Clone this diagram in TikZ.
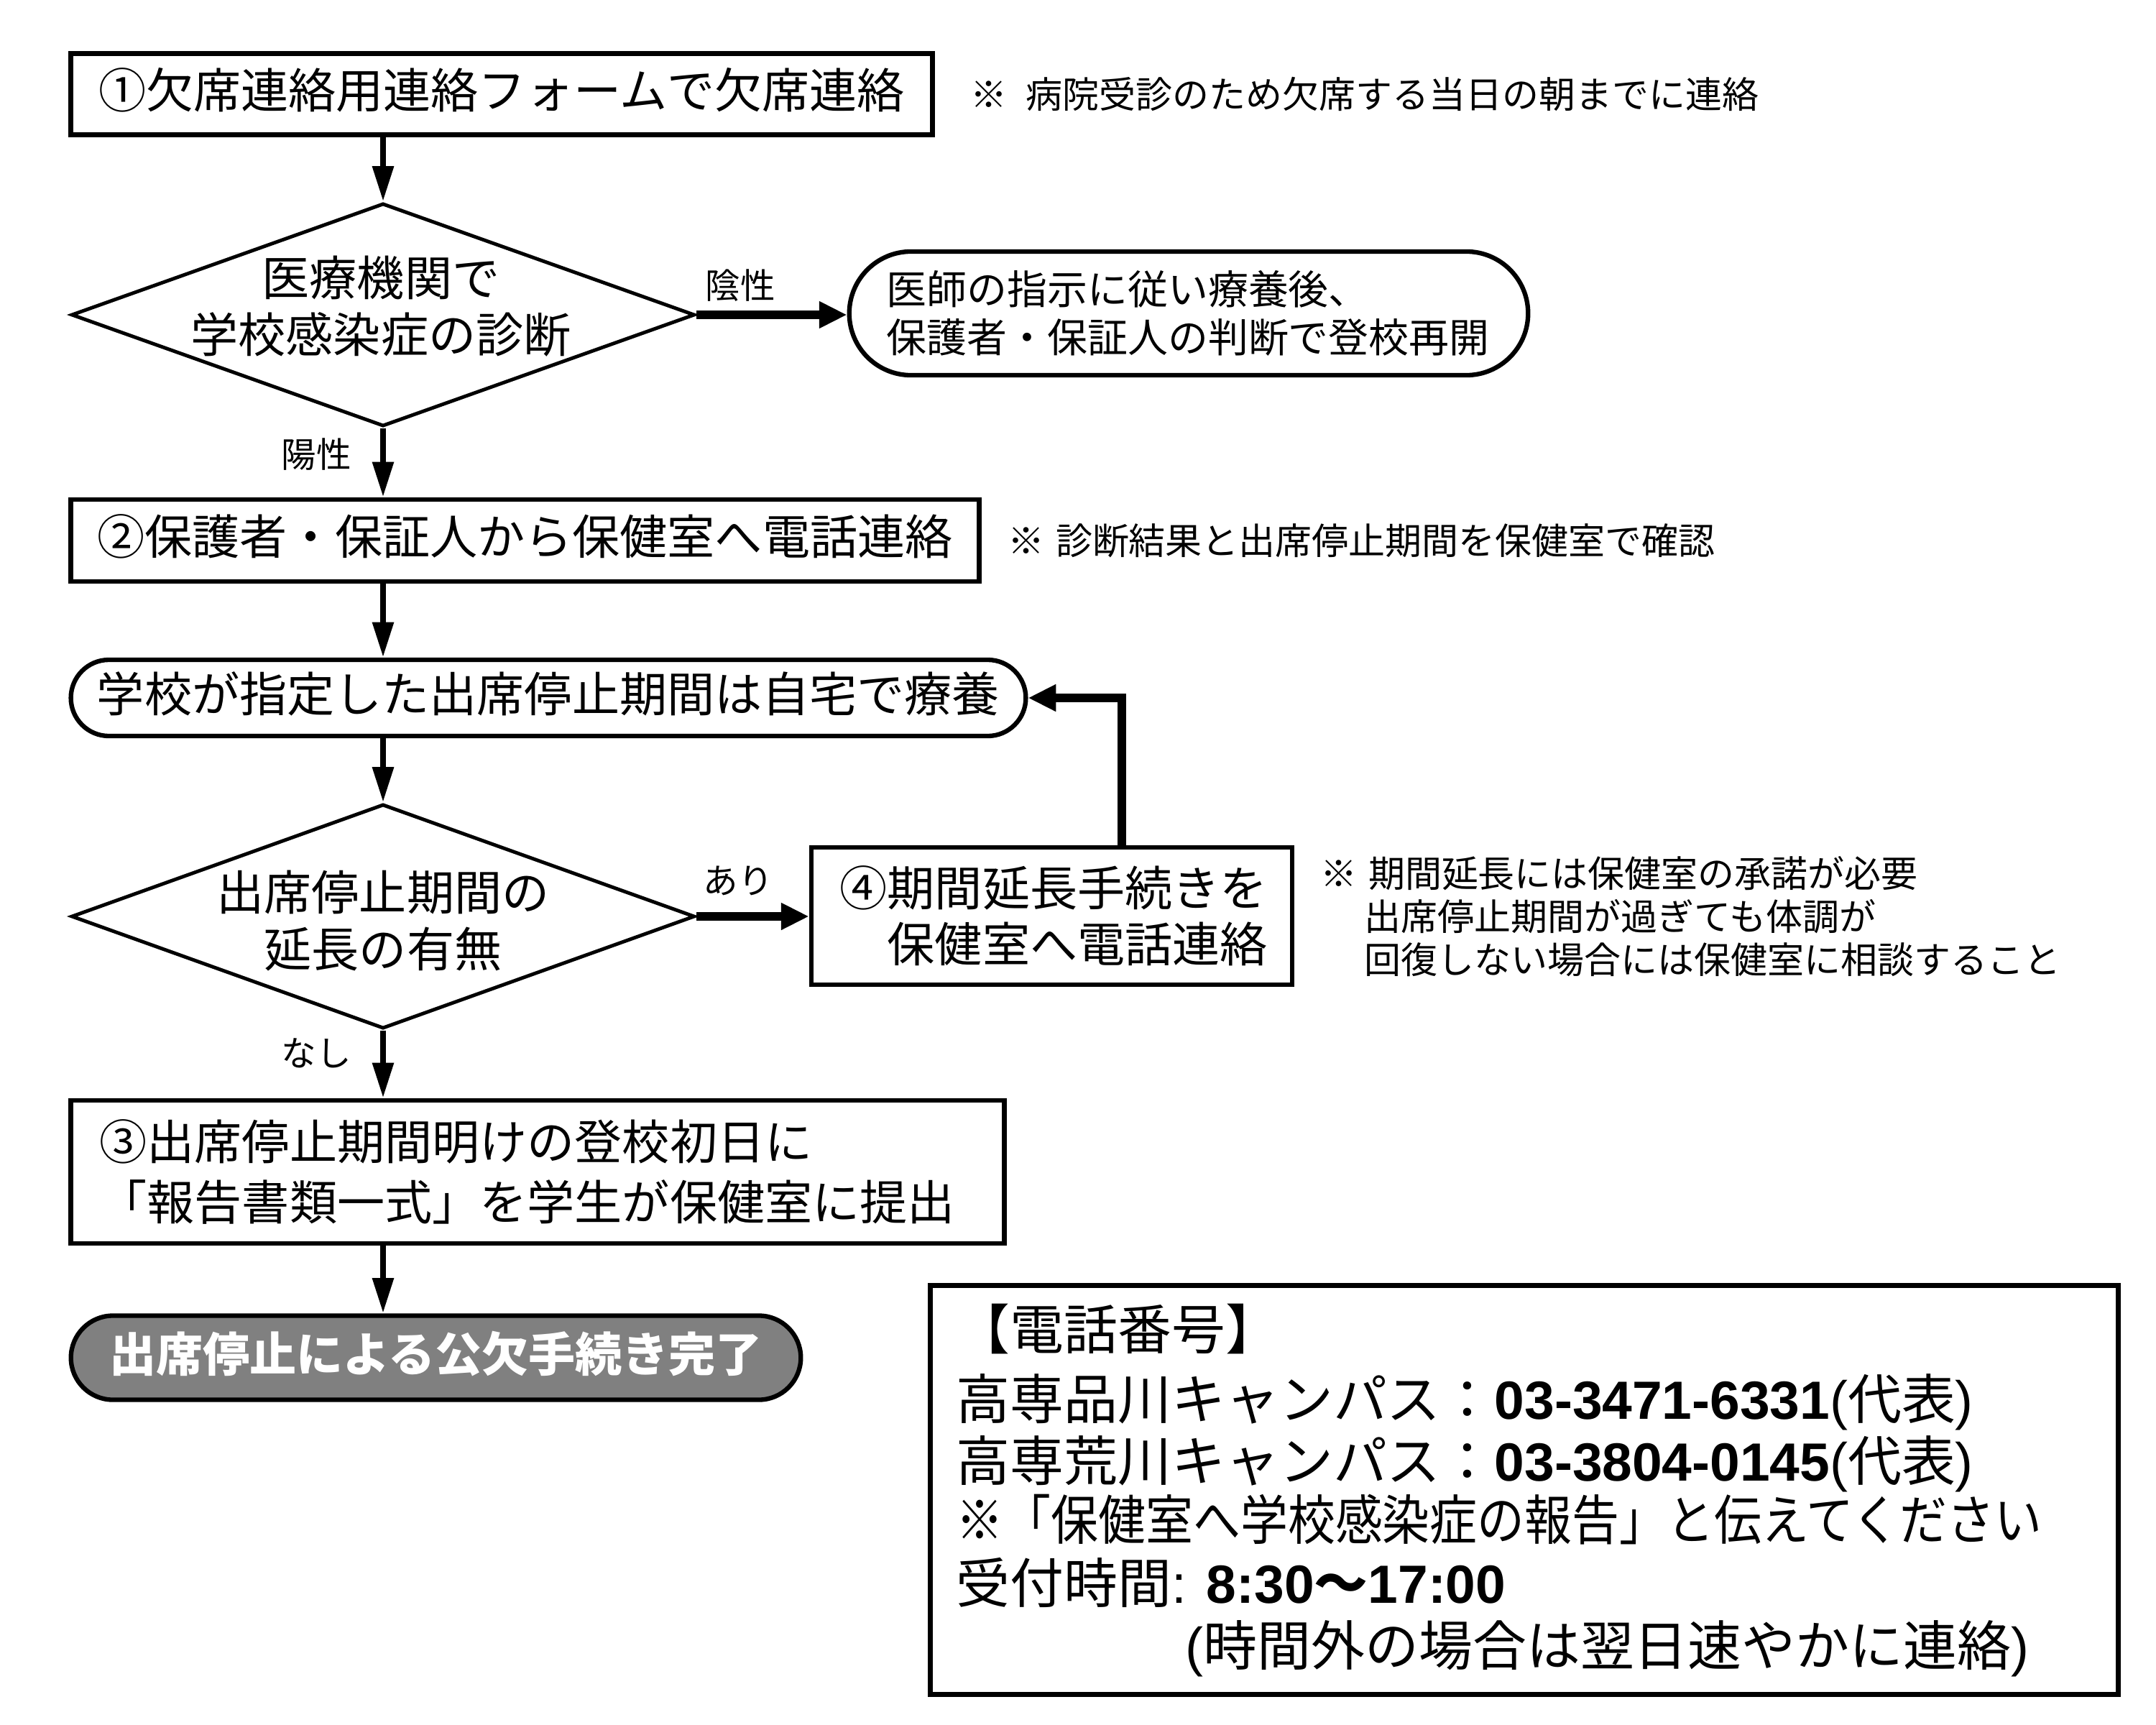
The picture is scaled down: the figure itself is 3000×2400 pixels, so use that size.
\documentclass[tikz,border=0pt]{standalone}
\usepackage{graphicx}
\usepackage{fontspec}
\setmainfont{Noto Sans CJK JP}
\newfontfamily\arial{Liberation Sans}
\usetikzlibrary{shapes.geometric,arrows.meta}
\definecolor{endgray}{HTML}{808080}
\newcommand\fM{\fontsize{18.8pt}{22.5pt}\selectfont}
\newcommand\fN{\fontsize{14.5pt}{17.1pt}\selectfont}
\newcommand\fL{\fontsize{13.8pt}{16pt}\selectfont}
\newcommand\fP{\fontsize{21.3pt}{25pt}\selectfont}
\begin{document}
\begin{tikzpicture}[x=0.01cm,y=-0.01cm,
  sl/.style={text height=1.1em,text depth=0pt},
  boxs/.style={draw,line width=1.8pt,inner sep=0pt},
  dia/.style={draw,shape=diamond,line width=1.4pt,inner sep=0pt},
  varr/.style={line width=2.4pt,-{Triangle[length=14pt,width=8pt]}},
  harr/.style={line width=3.2pt,-{Triangle[length=11pt,width=10pt]}},
  lbl/.style={sl,font=\fL,inner sep=0pt},
  note/.style={font=\fN,anchor=west,align=left,inner sep=0pt},
  ph/.style={sl,font=\fP,anchor=west,inner sep=0pt}]
\useasboundingbox (0,0) rectangle (3000,2400);

% step 1
\node[boxs,sl,minimum width=11.98cm,minimum height=1.13cm,font=\fM] (b1) at (698,131) {①欠席連絡用連絡フォームで欠席連絡};
\node[note,sl] (n1) at (1350,131) {※\hspace{0.5em}病院受診のため欠席する当日の朝までに連絡};

% diamond 1
\node[dia,minimum width=8.67cm,minimum height=3.1cm] (d1) at (533,438) {};
\node[font=\fM,align=center,inner sep=0pt] (d1t) at (530,426) {医療機関で\\学校感染症の診断};
\draw[varr] (d1.north |- b1.south) -- (d1.north);

% negative branch
\node[boxs,rounded corners=0.86cm,minimum width=9.44cm,minimum height=1.72cm,text width=8.40cm,align=left,font=\fontsize{15.9pt}{19pt}\selectfont] (s1) at (1654,436) {医師の指示に従い療養後、\\保護者・保証人の判断で登校再開};
\draw[harr] (d1.east) -- (s1.west |- d1.east);
\node[lbl] (l1) at (1030,396) {陰性};

% step 2
\node[boxs,sl,minimum width=12.63cm,minimum height=1.14cm,font=\fM] (b2) at (730.5,752) {②保護者・保証人から保健室へ電話連絡};
\draw[varr] (d1.south) -- (d1.south |- b2.north);
\node[lbl] (l2) at (440,631) {陽性};
\node[note,sl] (n2) at (1402,752) {※\hspace{0.3em}診断結果と出席停止期間を保健室で確認};

% home rest
\node[boxs,sl,rounded corners=0.53cm,minimum width=13.28cm,minimum height=1.06cm,font=\fM] (s2) at (763,971) {学校が指定した出席停止期間は自宅で療養};
\draw[varr] (d1.south |- b2.south) -- (d1.south |- s2.north);

% diamond 2
\node[dia,minimum width=8.67cm,minimum height=3.12cm] (d2) at (533,1275) {};
\node[font=\fontsize{18.8pt}{22.2pt}\selectfont,align=center,inner sep=0pt] (d2t) at (533,1281) {出席停止期間の\\延長の有無};
\draw[varr] (d2.north |- s2.south) -- (d2.north);

% step 4
\node[boxs,minimum width=6.69cm,minimum height=1.91cm,text width=6.0cm,align=right,font=\fontsize{18.8pt}{22.2pt}\selectfont] (b4) at (1463.5,1274.5) {④期間延長手続きを\\保健室へ電話連絡};
\draw[harr] (d2.east) -- (b4.west |- d2.east);
\node[lbl] (l3) at (1027,1224) {あり};
\draw[harr] ([xshift=0.975cm]b4.north) |- (s2.east);
\node[note] (n4) at (1837,1275) {※\hspace{0.3em}期間延長には保健室の承諾が必要\\\hspace*{1.2em}出席停止期間が過ぎても体調が\\\hspace*{1.2em}回復しない場合には保健室に相談すること};

% step 3
\node[boxs,minimum width=12.98cm,minimum height=1.99cm,text width=12.18cm,align=left,font=\fontsize{18.8pt}{24pt}\selectfont] (b3) at (748,1630.5) {③出席停止期間明けの登校初日に\\「報告書類一式」を学生が保健室に提出};
\draw[varr] (d2.south) -- (d2.south |- b3.north);
\node[lbl] (l4) at (440,1464) {なし};

% end
\node[boxs,sl,fill=endgray,text=white,rounded corners=0.585cm,minimum width=10.15cm,minimum height=1.17cm,font=\fontsize{18.5pt}{22pt}\selectfont\bfseries] (se) at (606.5,1889) {出席停止による公欠手続き完了};
\draw[varr] (d2.south |- b3.south) -- (d2.south |- se.north);

% phone box
\node[draw,line width=2pt,minimum width=16.52cm,minimum height=5.68cm,inner sep=0pt] (pb) at (2121,2073) {};
\node[ph] (p1) at (1330,1858) {【電話番号】};
\node[ph] (p2) at (1330,1955) {高専品川キャンパス：{\arial\bfseries 03-3471-6331}{\arial (}代表{\arial )}};
\node[ph] (p3) at (1330,2041) {高専荒川キャンパス：{\arial\bfseries 03-3804-0145}{\arial (}代表{\arial )}};
\node[ph] (p4) at (1330,2123) {\scalebox{0.88}[1]{※「保健室へ学校感染症の報告」と伝えてください}};
\node[ph] (p5) at (1330,2211) {受付時間{\arial : \bfseries 8:30}{\bfseries ～}{\arial\bfseries 17:00}};
\node[ph] (p6) at (1649,2298) {{\arial (}時間外の場合は翌日速やかに連絡{\arial )}};
\end{tikzpicture}
\end{document}
